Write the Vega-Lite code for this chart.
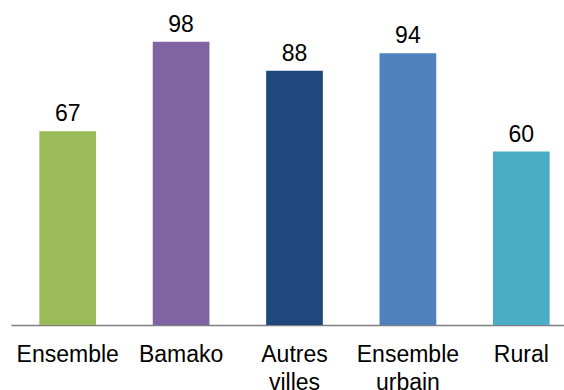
{
  "$schema": "https://vega.github.io/schema/vega-lite/v6.json",
  "autosize": "none",
  "width": 567,
  "height": 289,
  "padding": {"left": 11, "top": 36, "right": 0, "bottom": 65},
  "background": "white",
  "config": {"view": {"stroke": null}, "font": "Liberation Sans"},
  "data": {
    "values": [
      {"cat": "Ensemble", "value": 67, "color": "#9BBB59"},
      {"cat": "Bamako", "value": 98, "color": "#8064A2"},
      {"cat": "Autres villes", "value": 88, "color": "#1F497D"},
      {"cat": "Ensemble urbain", "value": 94, "color": "#4F81BD"},
      {"cat": "Rural", "value": 60, "color": "#4BACC6"}
    ]
  },
  "encoding": {
    "x": {
      "field": "cat", "type": "nominal", "sort": null,
      "scale": {"paddingInner": 0.5, "paddingOuter": 0.25},
      "axis": {
        "title": null, "labelAngle": 0, "ticks": false, "domainColor": "#808080", "domainWidth": 1.5,
        "labelFont": "Liberation Sans", "labelFontSize": 23, "labelColor": "#000000",
        "labelPadding": 18, "labelLineHeight": 28,
        "labelExpr": "datum.label == 'Ensemble urbain' ? ['Ensemble', 'urbain'] : (datum.label == 'Autres villes' ? ['Autres', 'villes'] : datum.label)"
      }
    },
    "y": {
      "field": "value", "type": "quantitative",
      "scale": {"domain": [0, 100]},
      "axis": null
    }
  },
  "layer": [
    {
      "mark": {"type": "bar"},
      "encoding": {"color": {"field": "color", "type": "nominal", "scale": null}}
    },
    {
      "mark": {"type": "text", "baseline": "alphabetic", "dy": -10, "fontSize": 23, "font": "Liberation Sans", "color": "#000000"},
      "encoding": {"text": {"field": "value", "type": "quantitative"}}
    }
  ]
}
